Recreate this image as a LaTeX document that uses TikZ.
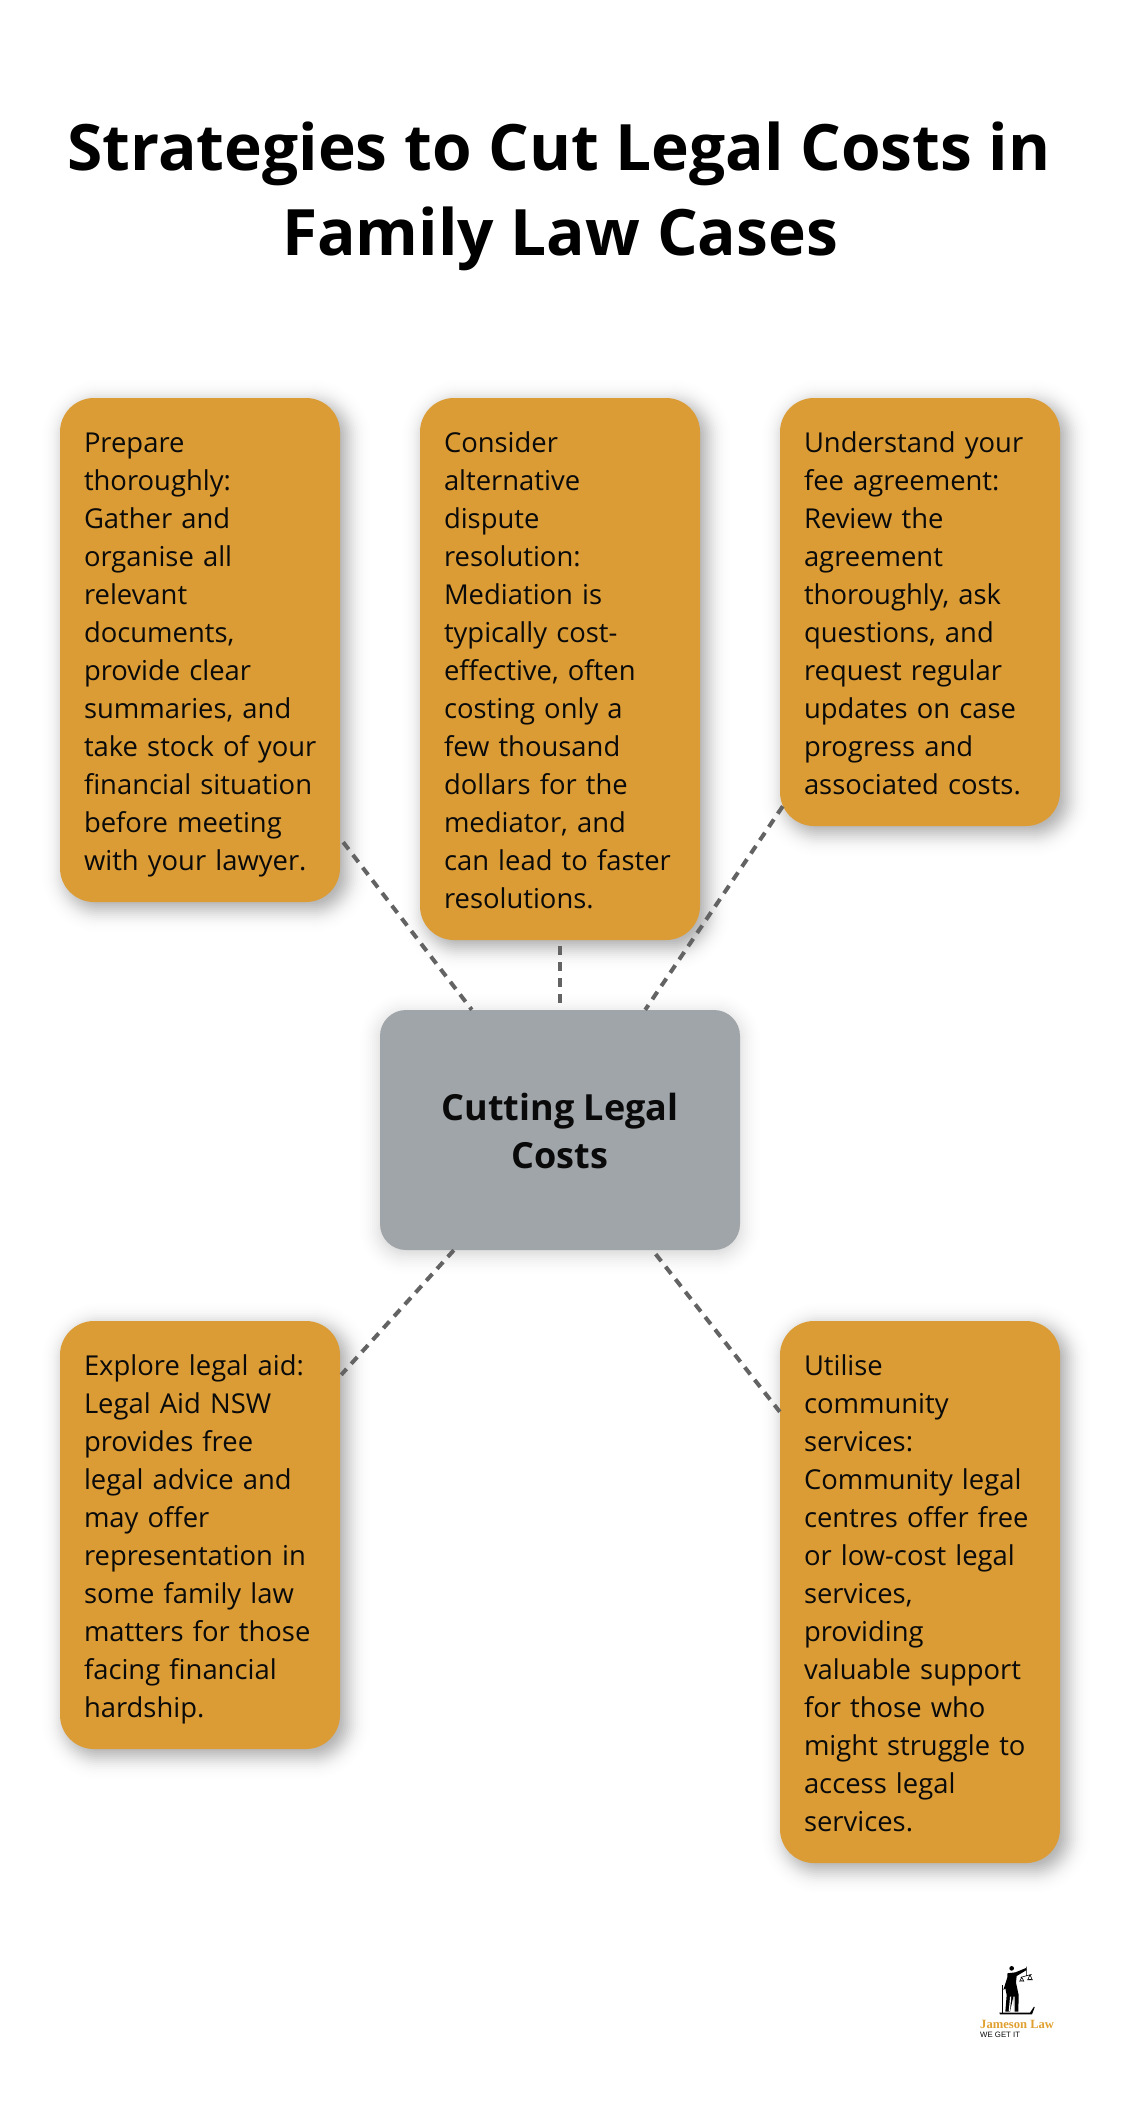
\documentclass[tikz,border=0pt]{standalone}
\usepackage{fontspec}
\setmainfont{Open Sans}
\newfontfamily\logoserif{Liberation Serif}
\newfontfamily\logosans{Liberation Sans}
\usetikzlibrary{calc,backgrounds}
\definecolor{boxorange}{HTML}{DB9C35}
\definecolor{boxgrey}{HTML}{A0A5A9}
\definecolor{linkgrey}{HTML}{636363}
\definecolor{inkblack}{HTML}{0A0A0A}
\definecolor{logogold}{HTML}{E0A030}
\newcommand{\lineA}{\rule[-8pt]{0pt}{38pt}}
% soft shadow made of stacked rounded rectangles: node, offset x, offset y, radius, strength, sigma
\newcommand{\softshadow}[6]{%
  \foreach \e in {-16,-14,...,36} {%
    \pgfmathsetmacro{\al}{#5*2/(#6*2.5066)*exp(-(\e*\e)/(2*#6*#6))}%
    \pgfmathsetmacro{\rr}{max(#4+\e,2)}%
    \pgfmathsetmacro{\xa}{#2-\e}\pgfmathsetmacro{\ya}{#3-\e}%
    \pgfmathsetmacro{\xb}{#2+\e}\pgfmathsetmacro{\yb}{#3+\e}%
    \fill[black,fill opacity=\al,rounded corners=\rr pt] ([shift={(\xa,\ya)}]#1.north west) rectangle ([shift={(\xb,\yb)}]#1.south east);
  }%
}
\tikzset{
  card/.style={fill=boxorange,rounded corners=34pt,minimum width=280pt,inner xsep=24pt,inner ysep=24pt,text width=232pt,align=left,text=inkblack,font=\fontsize{27.4}{38}\selectfont},
  hub/.style={fill=boxgrey,rounded corners=26pt,minimum width=360pt,minimum height=240pt,inner sep=0pt,align=center,text=inkblack,font=\fontsize{36}{48}\selectfont\bfseries},
  titletext/.style={anchor=base,inner sep=0pt,text=black,font=\fontsize{64}{85}\selectfont\bfseries},
  link/.style={draw=linkgrey,line width=4pt,dash pattern=on 9pt off 7pt},
}
\begin{document}
\begin{tikzpicture}[x=1pt,y=-1pt]
\useasboundingbox (0,0) rectangle (1120,2102);
\node[titletext] (t1) at (559,170) {Strategies to Cut Legal Costs in};
\node[titletext] (t2) at (560,255) {Family Law Cases};

\node[card] (b1) at (200,650) {\lineA Prepare\\thoroughly:\\Gather and\\organise all\\relevant\\documents,\\provide clear\\summaries, and\\\mbox{take stock of your}\\\mbox{financial situation}\\before meeting\\\lineA with your lawyer.};
\node[card] (b2) at (560,669) {\lineA Consider\\alternative\\dispute\\resolution:\\Mediation is\\typically cost-\\effective, often\\costing only a\\few thousand\\dollars for the\\mediator, and\\\mbox{can lead to faster}\\\lineA resolutions.};
\node[card] (b3) at (920,612) {\lineA Understand your\\fee agreement:\\Review the\\agreement\\thoroughly, ask\\questions, and\\request regular\\updates on case\\progress and\\\lineA associated costs.};
\node[hub] (c) at (560,1130) {\rule{0pt}{29.5pt}Cutting Legal\\Costs};
\node[card] (b4) at (200,1535) {\lineA Explore legal aid:\\Legal Aid NSW\\provides free\\legal advice and\\may offer\\\mbox{representation in}\\some family law\\\mbox{matters for those}\\facing financial\\\lineA hardship.};
\node[card] (b5) at (920,1592) {\lineA Utilise\\community\\services:\\Community legal\\\mbox{centres offer free}\\or low-cost legal\\services,\\providing\\valuable support\\for those who\\\mbox{might struggle to}\\access legal\\\lineA services.};

\begin{pgfonlayer}{background}
  \fill[white] (0,0) rectangle (1120,2102);
  \softshadow{b1}{6}{6}{34}{0.38}{10.5}
  \softshadow{b2}{6}{6}{34}{0.38}{10.5}
  \softshadow{b3}{6}{6}{34}{0.38}{10.5}
  \softshadow{b4}{6}{6}{34}{0.38}{10.5}
  \softshadow{b5}{6}{6}{34}{0.38}{10.5}
  \softshadow{c}{0}{4}{26}{0.2}{11}
\end{pgfonlayer}

\draw[link] ([shift={(3,-60)}]b1.south east) -- ([shift={(92,0)}]c.north west);
\draw[link] ([shift={(0,6)}]b2.south) -- (c.north);
\draw[link] ([shift={(3,-20)}]b3.south west) -- ([shift={(-95,0)}]c.north east);
\draw[link] ([shift={(74,0)}]c.south west) -- ([shift={(1,54)}]b4.north east);
\draw[link,dash phase=11pt] ([shift={(-87.6,0)}]c.south east) -- ([shift={(0,91)}]b5.north west);

\begin{scope}[shift={(950,1940)},x=0.3333pt,y=-0.3333pt]
  \fill[black] (185,85) circle (7);
  \fill[black] (172,100) -- (196,97) -- (228,84) -- (230,90) -- (200,108) -- (198,128) -- (206,165) -- (205,215) -- (192,215) -- (190,170) -- (180,215) -- (166,215) -- (170,165) -- (166,145) -- (160,150) -- (172,112) -- cycle;
  \draw[black,line width=.6pt] (229,80) -- (229,108) (212,112) -- (245,103) (215,112) -- (209,124) (215,112) -- (222,124) (240,104) -- (233,120) (240,104) -- (247,120);
  \fill[black] (208,124) arc (180:360:7 and 3) -- cycle (232,120) arc (180:360:8 and 3) -- cycle;
  \draw[black,line width=1pt] (156,135) -- (156,222);
  \fill[black] (148,218) -- (240,218) -- (252,200) -- (254,202) -- (246,223) -- (150,223) -- cycle;
  \draw[white,line width=1.2pt] (182,170) -- (178,214) (192,170) -- (192,216);
\end{scope}
\node[anchor=base west,inner sep=0pt,text=logogold,font=\logoserif\fontsize{12.6}{14}\selectfont\bfseries] (lg1) at (980,2028) {Jameson Law};
\node[anchor=base west,inner sep=0pt,text=inkblack,font=\logosans\fontsize{7.8}{9}\selectfont] (lg2) at (980,2037) {WE GET IT};
\end{tikzpicture}
\end{document}
